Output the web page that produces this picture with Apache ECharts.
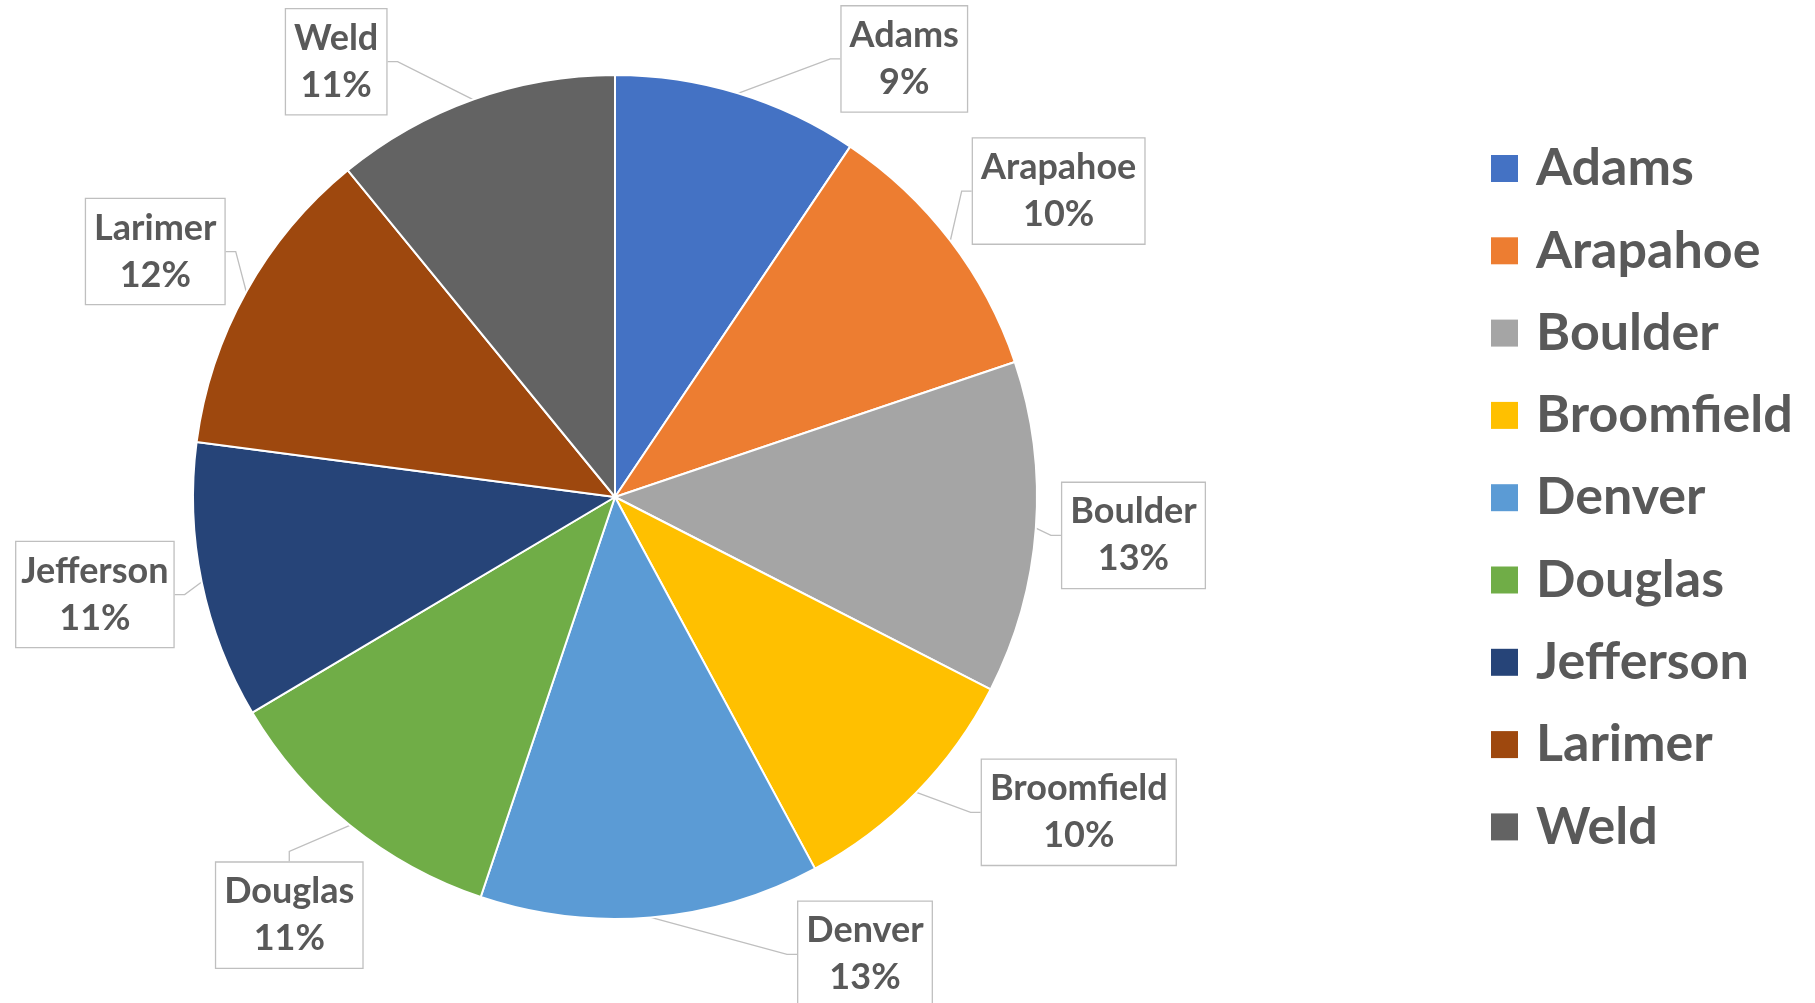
<!DOCTYPE html>
<html>
<head>
<meta charset="utf-8">
<script src="https://cdn.jsdelivr.net/npm/echarts@6/dist/echarts.min.js"></script>
<style>
  html, body { margin: 0; padding: 0; background: #ffffff; }
  #chart { width: 1815px; height: 1003px; }
</style>
</head>
<body>
<div id="chart"></div>
<script>
// County shares
const counties = ['Adams', 'Arapahoe', 'Boulder', 'Broomfield', 'Denver', 'Douglas', 'Jefferson', 'Larimer', 'Weld'];
const shares = [94, 104, 127, 96, 130, 113, 106, 120, 109];
const sliceColors = ['#4472C4', '#ED7D31', '#A5A5A5', '#FFC000', '#5B9BD5', '#70AD47', '#264478', '#9E480E', '#636363'];

// Pie geometry
const CX = 615, CY = 497, R = 422;
// Callout placement: turn (degrees) away from the slice middle, and reach as a multiple of the radius
const calloutTurn = [16.5, 2.8, 0, -10.2, -23.8, -1, 1, -1, -13];
const calloutReach = [1.244, 1.277, 1.232, 1.329, 1.235, 1.256, 1.254, 1.235, 1.225];

const total = shares.reduce((a, b) => a + b, 0);
const midAngles = [];
let acc = 0;
shares.forEach(v => { midAngles.push((acc + v / 2) / total * 360); acc += v; });

const FONT = 'Lato, "Open Sans", sans-serif';
const TEXT = '#595959';

const chart = echarts.init(document.getElementById('chart'), null, { renderer: 'canvas' });
chart.setOption({
  animation: false,
  color: sliceColors,
  legend: {
    orient: 'vertical',
    left: 1491,
    top: 141,
    padding: 0,
    icon: 'rect',
    itemWidth: 27,
    itemHeight: 27,
    itemGap: 27.3,
    selectedMode: false,
    data: counties,
    itemStyle: { borderWidth: 0 },
    textStyle: {
      fontFamily: FONT,
      fontWeight: 'bold',
      fontSize: 52,
      lineHeight: 55,
      color: TEXT,
      padding: [0, 0, 0, 13]
    }
  },
  series: [{
    type: 'pie',
    center: [CX, CY],
    radius: R,
    startAngle: 90,
    clockwise: true,
    percentPrecision: 0,
    data: counties.map((name, i) => ({ name: name, value: shares[i] })),
    itemStyle: { borderColor: '#ffffff', borderWidth: 2 },
    emphasis: { disabled: true },
    label: {
      show: true,
      position: 'outside',
      formatter: '{b}\n{d}%',
      fontFamily: FONT,
      fontWeight: 'bold',
      fontSize: 36,
      lineHeight: 47,
      color: TEXT,
      align: 'center',
      overflow: 'none',
      backgroundColor: '#ffffff',
      borderColor: '#BFBFBF',
      borderWidth: 1.3,
      padding: [10, 8, 1, 8]
    },
    labelLine: {
      show: true,
      length: 20,
      length2: 10,
      lineStyle: { color: '#BFBFBF', width: 1.3 }
    },
    labelLayout: function (p) {
      const i = p.dataIndex;
      const a = (midAngles[i] + calloutTurn[i]) * Math.PI / 180;
      const d = R * calloutReach[i];
      return {
        x: CX + d * Math.sin(a),
        y: CY - d * Math.cos(a),
        align: 'center',
        verticalAlign: 'middle'
      };
    }
  }]
});
</script>
</body>
</html>
